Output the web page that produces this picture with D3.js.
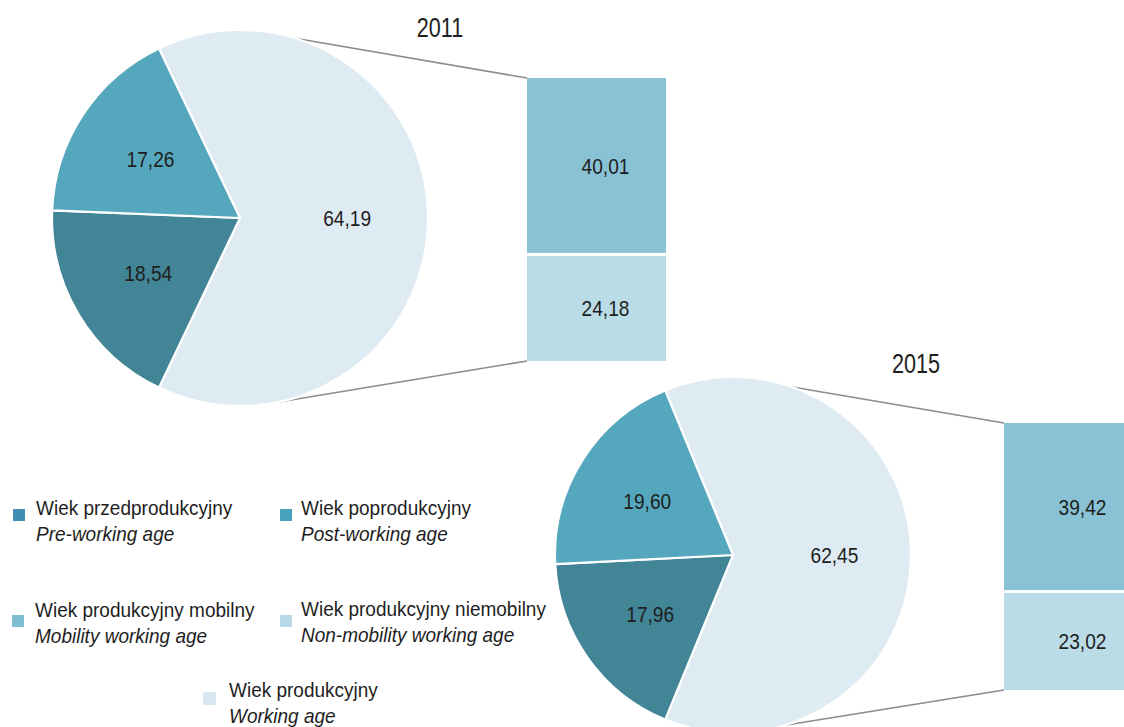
<!DOCTYPE html>
<html>
<head>
<meta charset="utf-8">
<script src="https://cdn.jsdelivr.net/npm/d3@7"></script>
<style>
  html, body { margin: 0; padding: 0; background: #fff; }
  svg { display: block; }
  text { font-family: "Liberation Sans Narrow", "Arial Narrow", "Liberation Sans", Arial, sans-serif; fill: #1e1e1e; }
</style>
</head>
<body>
<svg id="chart" width="1124" height="727"></svg>
<script>
// data
var years = ["2011", "2015"];
var pieCategories = ["Wiek produkcyjny", "Wiek przedprodukcyjny", "Wiek poprodukcyjny"];
var pieValues2011 = [64.19, 18.54, 17.26];
var pieValues2015 = [62.45, 17.96, 19.60];
var barCategories = ["Wiek produkcyjny mobilny", "Wiek produkcyjny niemobilny"];
var barValues2011 = [40.01, 24.18];
var barValues2015 = [39.42, 23.02];

var legendPl = ["Wiek przedprodukcyjny", "Wiek poprodukcyjny", "Wiek produkcyjny mobilny",
  "Wiek produkcyjny niemobilny", "Wiek produkcyjny"];
var legendEn = ["Pre-working age", "Post-working age", "Mobility working age",
  "Non-mobility working age", "Working age"];

var color = d3.scaleOrdinal()
  .domain(pieCategories.concat(barCategories))
  .range(["#dfebf3", "#428597", "#55a7bd", "#88c2d4", "#badce7"]);

var legendColor = d3.scaleOrdinal()
  .domain(legendPl)
  .range(["#3f8db0", "#4aa1bb", "#80bfd3", "#b8dae6", "#d9e7f1"]);

var pl = d3.formatLocale({ decimal: ",", thousands: " ", grouping: [3], currency: ["", " zł"] });
var fmt = pl.format(".2f");

// no narrow font installed: squeeze the regular one
function narrow(x, y, sx) {
  return "translate(" + x + "," + y + ") scale(" + sx + ",1)";
}

var svg = d3.select("#chart");

// layout for each year: pie, bar, connector angles (deg)
var panels = [
  { year: years[0], pie: pieValues2011, bar: barValues2011,
    cx: 240, cy: 218, r: 188, bx: 527, by: 78, bw: 139, bh: 283,
    tx: 440, ty: 37, links: [17, 169] },
  { year: years[1], pie: pieValues2015, bar: barValues2015,
    cx: 733, cy: 555, r: 178, bx: 1004, by: 423, bw: 139, bh: 267,
    tx: 916, ty: 373, links: [19, 163] }
];

panels.forEach(function (p) {
  var total = d3.sum(p.pie);
  var share = p.pie[0] / total;

  // working age slice centred on the right side
  var pie = d3.pie()
    .sort(null)
    .startAngle(Math.PI / 2 - share * Math.PI)
    .endAngle(Math.PI / 2 - share * Math.PI + 2 * Math.PI);

  var arc = d3.arc().innerRadius(0).outerRadius(p.r);
  var labelArc = d3.arc().innerRadius(p.r * 0.57).outerRadius(p.r * 0.57);

  var rows = pieCategories.map(function (c, i) { return { key: c, value: p.pie[i] }; });
  var arcs = pie.value(function (d) { return d.value; })(rows);

  var g = svg.append("g")
    .attr("transform", "translate(" + p.cx + "," + p.cy + ")");

  // connector lines, drawn first so the pie covers them
  var bar = d3.scaleLinear()
    .domain([0, d3.sum(p.bar)])
    .range([p.by, p.by + p.bh]);

  var rad = function (a) { return a * Math.PI / 180; };
  var ends = [
    [p.cx + p.r * Math.sin(rad(p.links[0])), p.cy - p.r * Math.cos(rad(p.links[0])), p.bx, bar(0)],
    [p.cx + p.r * Math.sin(rad(p.links[1])), p.cy - p.r * Math.cos(rad(p.links[1])), p.bx, bar(d3.sum(p.bar))]
  ];
  svg.insert("g", ":first-child").selectAll("line")
    .data(ends)
    .enter().append("line")
    .attr("x1", function (d) { return d[0]; })
    .attr("y1", function (d) { return d[1]; })
    .attr("x2", function (d) { return d[2]; })
    .attr("y2", function (d) { return d[3]; })
    .attr("stroke", "#8c8c8c")
    .attr("stroke-width", 1.6);

  g.selectAll("path")
    .data(arcs)
    .enter().append("path")
    .attr("d", arc)
    .attr("fill", function (d) { return color(d.data.key); })
    .attr("stroke", "#fff")
    .attr("stroke-width", 2.2)
    .attr("stroke-linejoin", "round");

  g.selectAll("text")
    .data(arcs)
    .enter().append("text")
    .attr("transform", function (d) {
      var c = labelArc.centroid(d);
      return narrow(c[0], c[1], 0.87);
    })
    .attr("text-anchor", "middle")
    .attr("dy", "0.36em")
    .style("font-size", "22px")
    .text(function (d) { return fmt(d.data.value); });

  // stacked bar of the working age split
  var cum = d3.cumsum(p.bar);
  var segs = barCategories.map(function (c, i) {
    return { key: c, value: p.bar[i], y0: cum[i] - p.bar[i], y1: cum[i] };
  });

  var bg = svg.append("g");
  bg.selectAll("rect")
    .data(segs)
    .enter().append("rect")
    .attr("x", p.bx)
    .attr("y", function (d, i) { return bar(d.y0) + (i ? 1.5 : 0); })
    .attr("width", p.bw)
    .attr("height", function (d, i) { return bar(d.y1) - bar(d.y0) - 1.5; })
    .attr("fill", function (d) { return color(d.key); });

  bg.selectAll("text")
    .data(segs)
    .enter().append("text")
    .attr("transform", function (d) {
      return narrow(p.bx + p.bw / 2 + 9, (bar(d.y0) + bar(d.y1)) / 2, 0.87);
    })
    .attr("text-anchor", "middle")
    .attr("dy", "0.36em")
    .style("font-size", "22px")
    .text(function (d) { return fmt(d.value); });

  svg.append("text")
    .attr("transform", narrow(p.tx, p.ty, 0.8))
    .attr("text-anchor", "middle")
    .style("font-size", "27px")
    .text(p.year);
});

// legend
var legendPos = [[13, 509, 515], [280, 509, 515], [12, 615, 617], [280, 615, 616], [203, 692, 697]];

var items = svg.append("g").selectAll("g")
  .data(legendPl)
  .enter().append("g")
  .attr("transform", function (d, i) { return "translate(" + legendPos[i][0] + ",0)"; });

items.append("rect")
  .attr("x", 0)
  .attr("y", function (d, i) { return legendPos[i][1]; })
  .attr("width", function (d, i) { return i === 4 ? 13 : 12; })
  .attr("height", function (d, i) { return i === 4 ? 13 : 12; })
  .attr("fill", function (d) { return legendColor(d); });

function textX(i) { return i === 4 ? 26 : (i % 2 ? 21 : 23); }

items.append("text")
  .attr("transform", function (d, i) { return narrow(textX(i), legendPos[i][2], 0.95); })
  .style("font-size", "20px")
  .text(function (d) { return d; });

items.append("text")
  .attr("transform", function (d, i) { return narrow(textX(i), legendPos[i][2] + 26, 0.95); })
  .style("font-size", "20px")
  .style("font-style", "italic")
  .text(function (d, i) { return legendEn[i]; });
</script>
</body>
</html>
